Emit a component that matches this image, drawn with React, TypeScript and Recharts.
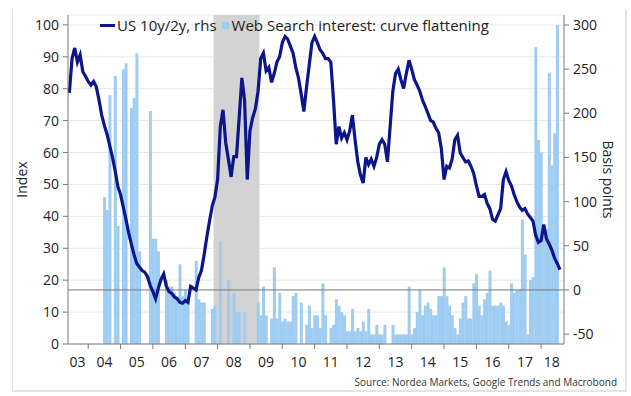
import React from "react";
import {
  ComposedChart,
  Bar,
  Line,
  XAxis,
  YAxis,
  CartesianGrid,
  ReferenceArea,
  ReferenceLine,
} from "recharts";

// monthly categories, Jun 2003 .. Sep 2018
const months: string[] = [];
for (let y = 2003; y <= 2018; y++) {
  for (let mo = 1; mo <= 12; mo++) {
    if (y === 2003 && mo < 6) continue;
    if (y === 2018 && mo > 9) continue;
    months.push(`${y}-${String(mo).padStart(2, "0")}`);
  }
}

// US 10y/2y spread, bp (rhs)
const spread2003 = [223, 262, 274, 258, 266, 247, 242];
const spread2004 = [236, 232, 236, 230, 215, 198, 186, 176, 163, 150, 135, 117];
const spread2005 = [108, 94, 80, 65, 52, 40, 30, 26, 22, 20, 15, 5];
const spread2006 = [-2, -10, 2, 12, 18, 4, -2, -4, -8, -10, -14, -15];
const spread2007 = [-12, -14, 4, 2, 0, 14, 22, 40, 60, 78, 95, 105];
const spread2008 = [125, 185, 204, 167, 148, 128, 151, 151, 195, 240, 215, 125];
const spread2009 = [180, 195, 205, 225, 262, 268, 248, 252, 235, 245, 258, 264];
const spread2010 = [280, 287, 284, 276, 268, 252, 240, 222, 202, 230, 255, 280];
const spread2011 = [287, 280, 272, 268, 262, 262, 258, 215, 165, 185, 172, 178];
const spread2012 = [170, 180, 198, 170, 145, 130, 121, 150, 142, 148, 140, 150];
const spread2013 = [165, 170, 165, 145, 185, 225, 245, 250, 238, 228, 245, 260];
const spread2014 = [250, 238, 232, 225, 215, 208, 200, 192, 190, 183, 178, 160];
const spread2015 = [125, 140, 138, 148, 170, 175, 155, 150, 145, 146, 140, 132];
const spread2016 = [118, 106, 106, 108, 98, 92, 80, 78, 85, 92, 125, 134];
const spread2017 = [124, 118, 108, 100, 94, 90, 92, 86, 82, 78, 62, 54];
const spread2018 = [56, 74, 58, 52, 45, 36, 30, 23, null];

// Google web search interest "curve flattening", index (lhs)
const search2003 = [null, null, null, null, null, null, null];
const search2004 = [0, 0, 0, 0, 0, 0, 46, 42, 78, 0, 84, 37];
const search2005 = [0, 86, 88, 0, 74, 77, 91, 29, 0, 0, 0, 73];
const search2006 = [33, 33, 29, 0, 0, 20, 18, 18, 16, 15, 25, 15];
const search2007 = [17, 14, 0, 0, 26, 14, 13, 13, 0, 0, 11, 12];
const search2008 = [0, 32, 0, 0, 20, 0, 16, 10, 10, 0, 10, 0];
const search2009 = [0, 0, 0, 13, 9, 18, 9, 0, 8, 24, 8, 16];
const search2010 = [7, 8, 7, 7, 15, 16, 0, 13, 0, 6, 12, 5];
const search2011 = [9, 9, 5, 19, 9, 0, 5, 6, 14, 12, 10, 9];
const search2012 = [4, 4, 11, 4, 5, 4, 7, 4, 11, 3, 3, 6];
const search2013 = [3, 3, 6, 0, 0, 6, 3, 3, 3, 3, 3, 18];
const search2014 = [3, 5, 10, 17, 9, 12, 13, 11, 9, 9, 15, 15];
const search2015 = [24, 15, 12, 9, 5, 3, 8, 13, 15, 8, 8, 19];
const search2016 = [22, 12, 9, 14, 16, 23, 12, 12, 12, 13, 12, 7];
const search2017 = [6, 19, 16, 17, 17, 39, 28, 3, 20, 21, 93, 64];
const search2018 = [60, 36, 36, 85, 56, 66, 100, null, null];

const spread = [
  ...spread2003, ...spread2004, ...spread2005, ...spread2006, ...spread2007,
  ...spread2008, ...spread2009, ...spread2010, ...spread2011, ...spread2012,
  ...spread2013, ...spread2014, ...spread2015, ...spread2016, ...spread2017,
  ...spread2018,
];
const search = [
  ...search2003, ...search2004, ...search2005, ...search2006, ...search2007,
  ...search2008, ...search2009, ...search2010, ...search2011, ...search2012,
  ...search2013, ...search2014, ...search2015, ...search2016, ...search2017,
  ...search2018,
];

const yearTicks = [
  "2004-01", "2005-01", "2006-01", "2007-01", "2008-01", "2009-01", "2010-01", "2011-01",
  "2012-01", "2013-01", "2014-01", "2015-01", "2016-01", "2017-01", "2018-01",
];
const yearLabels = [
  "2003-09", "2004-07", "2005-07", "2006-07", "2007-07", "2008-07", "2009-07", "2010-07",
  "2011-07", "2012-07", "2013-07", "2014-07", "2015-07", "2016-07", "2017-07", "2018-05",
];
const leftTicks = [0, 10, 20, 30, 40, 50, 60, 70, 80, 90, 100];
const rightTicks = [-50, 0, 50, 100, 150, 200, 250, 300];

const data = months.map((month, i) => ({ month, spread: spread[i], search: search[i] }));

const NAVY = "#0b168c";
const SKY = "#9fccf3";
const AXIS = "#7a7a7a";
const TEXT = "#222";
const tickStyle = { fontSize: 14, fill: TEXT, fontFamily: "Open Sans" };

export default function App() {
  return (
    <div style={{ position: "absolute", left: 0, top: 0, width: 631, height: 396, background: "#fff", fontFamily: "Open Sans" }}>
      <div
        style={{
          position: "absolute", left: 12, top: 10, width: 612, height: 380,
          borderLeft: "1px solid #e4e4e4", borderRight: "2px solid #e4e4e4", borderBottom: "2px solid #e4e4e4",
        }}
      />
      <ComposedChart
        width={631}
        height={396}
        data={data}
        margin={{ top: 15, right: 0, bottom: 0, left: 0 }}
        barCategoryGap={0}
        barGap={0}
        style={{ position: "absolute", left: 0, top: 0 }}
      >
        <CartesianGrid yAxisId="left" xAxisId="a" vertical={false} stroke="#e8e8e8" />
        <XAxis
          xAxisId="a"
          dataKey="month"
          ticks={yearTicks}
          interval={0}
          height={5}
          tickSize={5}
          stroke={AXIS}
          tick={() => <g />}
        />
        <XAxis
          xAxisId="b"
          dataKey="month"
          ticks={yearLabels}
          interval={0}
          height={47}
          axisLine={false}
          tickLine={false}
          tickSize={0}
          tickMargin={8}
          tick={tickStyle}
          tickFormatter={(v: string) => v.slice(2, 4)}
        />
        <YAxis
          yAxisId="left"
          domain={[0, 103.1]}
          ticks={leftTicks}
          width={68}
          tickSize={5}
          tickMargin={4}
          stroke={AXIS}
          tick={tickStyle}
          label={{ value: "Index", angle: -90, position: "insideLeft", offset: 22, style: { textAnchor: "middle", fontSize: 14, fill: TEXT, fontFamily: "Open Sans" } }}
        />
        <YAxis
          yAxisId="right"
          orientation="right"
          domain={[-61.2, 311.3]}
          ticks={rightTicks}
          width={67}
          tickSize={5}
          tickMargin={4}
          stroke={AXIS}
          tick={tickStyle}
          label={{ value: "Basis points", angle: 90, position: "insideRight", offset: 23, style: { textAnchor: "middle", fontSize: 14, fill: TEXT, fontFamily: "Open Sans" } }}
        />
        <ReferenceArea xAxisId="a" yAxisId="left" x1="2007-12" x2="2009-04" fill="#d3d3d3" fillOpacity={1} stroke="none" />
        <Bar xAxisId="a" yAxisId="left" dataKey="search" fill={SKY} isAnimationActive={false} />
        <ReferenceLine xAxisId="a" yAxisId="right" y={0} stroke="#777" strokeWidth={1} />
        <Line
          xAxisId="b"
          yAxisId="right"
          dataKey="spread"
          stroke={NAVY}
          strokeWidth={3.2}
          dot={false}
          type="linear"
          isAnimationActive={false}
        />
      </ComposedChart>
      <div
        style={{
          position: "absolute", left: 100, top: 15, display: "flex", alignItems: "center",
          fontSize: 15, color: TEXT, whiteSpace: "nowrap", lineHeight: "20px",
        }}
      >
        <span style={{ display: "inline-block", width: 15, height: 3, background: NAVY, marginRight: 2 }} />
        <span>US 10y/2y, rhs</span>
        <span style={{ display: "inline-block", width: 7, height: 7, background: SKY, marginLeft: 5, marginRight: 3 }} />
        <span>Web Search interest: curve flattening</span>
      </div>
      <div style={{ position: "absolute", right: 14, top: 375, fontSize: 10, color: "#333", whiteSpace: "nowrap" }}>
        Source: Nordea Markets, Google Trends and Macrobond
      </div>
    </div>
  );
}
